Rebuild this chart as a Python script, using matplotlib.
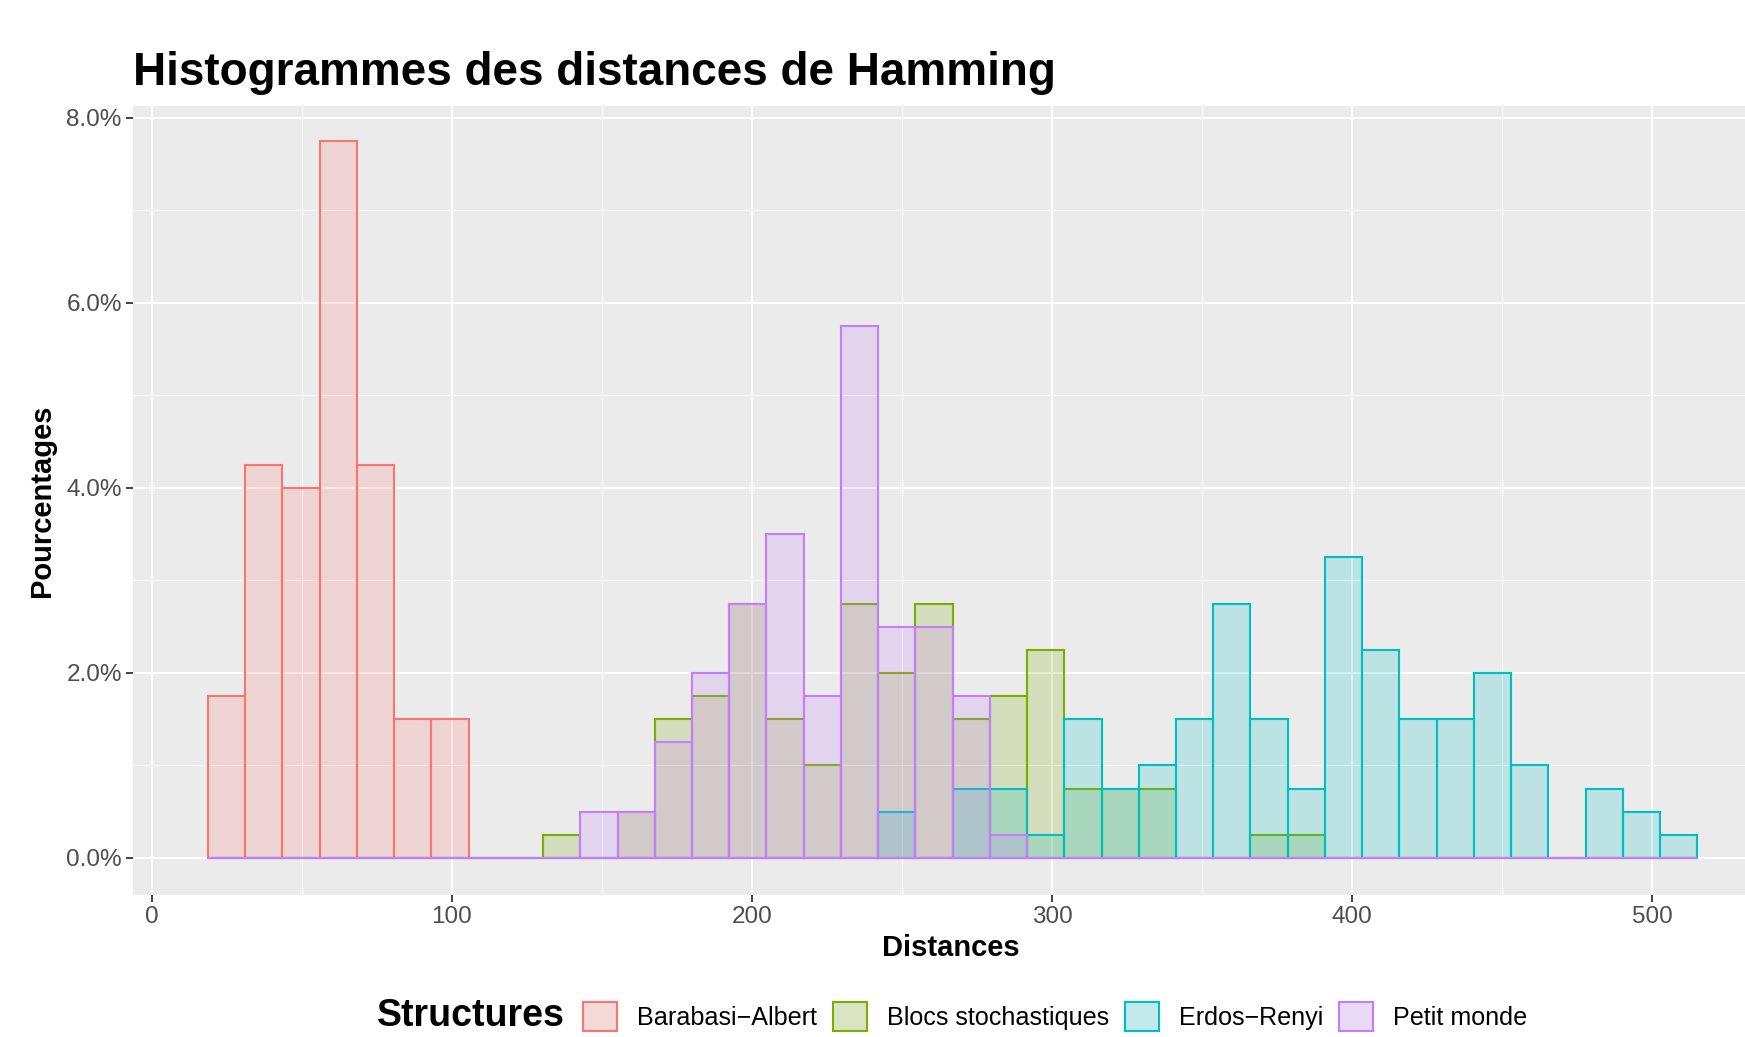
import numpy as np
import matplotlib
matplotlib.use('Agg')
from matplotlib import pyplot as plt
from matplotlib.patches import Patch
from matplotlib.ticker import FuncFormatter, MultipleLocator

plt.rcParams['font.family'] = ['Liberation Sans', 'DejaVu Sans']

# histogram bins (distance units)
bin_start = 18.7
bin_width = 12.41
n_bins = 40
n_total = 400  # 4 structures x 100 graphs

structures = ['Barabasi\u2212Albert', 'Blocs stochastiques', 'Erdos\u2212Renyi', 'Petit monde']
colors = ['#F8766D', '#7CAE00', '#00BFC4', '#C77CFF']

# counts per bin (0.25% = 1 graph)
counts_ba = [7, 17, 16, 31, 17, 6, 6, 0, 0, 0,
             0, 0, 0, 0, 0, 0, 0, 0, 0, 0,
             0, 0, 0, 0, 0, 0, 0, 0, 0, 0,
             0, 0, 0, 0, 0, 0, 0, 0, 0, 0]
counts_sbm = [0, 0, 0, 0, 0, 0, 0, 0, 0, 1,
              0, 2, 6, 7, 11, 6, 4, 11, 8, 11,
              6, 7, 9, 3, 3, 3, 0, 0, 1, 1,
              0, 0, 0, 0, 0, 0, 0, 0, 0, 0]
counts_er = [0, 0, 0, 0, 0, 0, 0, 0, 0, 0,
             0, 0, 0, 0, 0, 0, 0, 0, 2, 0,
             3, 3, 1, 6, 3, 4, 6, 11, 6, 3,
             13, 9, 6, 6, 8, 4, 0, 3, 2, 1]
counts_sw = [0, 0, 0, 0, 0, 0, 0, 0, 0, 0,
             2, 2, 5, 8, 11, 14, 7, 23, 10, 10,
             7, 1, 0, 0, 0, 0, 0, 0, 0, 0,
             0, 0, 0, 0, 0, 0, 0, 0, 0, 0]

all_counts = [counts_ba, counts_sbm, counts_er, counts_sw]
edges = bin_start + bin_width * np.arange(n_bins)

fig = plt.figure(figsize=(17.45, 10.37), dpi=100)
ax = fig.add_axes([0.0762, 0.137, 0.9238, 0.761])
ax.set_facecolor('#EBEBEB')

for cnt, col in zip(all_counts, colors):
    pct = np.array(cnt) / n_total * 100
    ax.bar(edges, pct, width=bin_width, align='edge',
           facecolor=matplotlib.colors.to_rgba(col, 0.2),
           edgecolor=col, linewidth=1.5, zorder=3)

ax.set_xlim(-6.3, 531)
ax.set_ylim(-0.40, 8.13)
ax.xaxis.set_major_locator(MultipleLocator(100))
ax.xaxis.set_minor_locator(MultipleLocator(50))
ax.yaxis.set_major_locator(MultipleLocator(2))
ax.yaxis.set_minor_locator(MultipleLocator(1))
ax.yaxis.set_major_formatter(FuncFormatter(lambda v, p: f'{v:.1f}%'))
ax.grid(which='major', color='white', linewidth=1.5, zorder=1)
ax.grid(which='minor', color='white', linewidth=0.75, zorder=1)
ax.set_axisbelow(True)
for s in ax.spines.values():
    s.set_visible(False)
ax.tick_params(which='major', length=5, width=1.3, color='#333333',
               labelcolor='#4D4D4D', labelsize=17.5, pad=3)
ax.tick_params(which='minor', length=0)

fig.text(0.0762, 0.918, 'Histogrammes des distances de Hamming',
         fontsize=33, fontweight='bold', ha='left', va='baseline')
fig.text(0.545, 0.086, 'Distances', fontsize=21, fontweight='bold',
         ha='center', va='center')
fig.text(0.024, 0.517, 'Pourcentages', fontsize=21, fontweight='bold',
         ha='center', va='center', rotation=90)

fig.text(0.216, 0.020, 'Structures', fontsize=27, fontweight='bold',
         ha='left', va='center')

# legend keys: alpha fill composited over the grey95 key background
key_bg = np.array(matplotlib.colors.to_rgb('#F2F2F2'))
handles = []
for c in colors:
    fc = 0.2 * np.array(matplotlib.colors.to_rgb(c)) + 0.8 * key_bg
    handles.append(Patch(facecolor=fc, edgecolor=c, linewidth=1.5))
fig.legend(handles, structures, loc='center left', bbox_to_anchor=(0.334, 0.020),
           ncol=4, frameon=False, fontsize=18.1, handlelength=1.36,
           handleheight=1.4, handletextpad=0.8, columnspacing=0.62,
           borderaxespad=0, borderpad=0)

fig.savefig('out.png', dpi=100)
